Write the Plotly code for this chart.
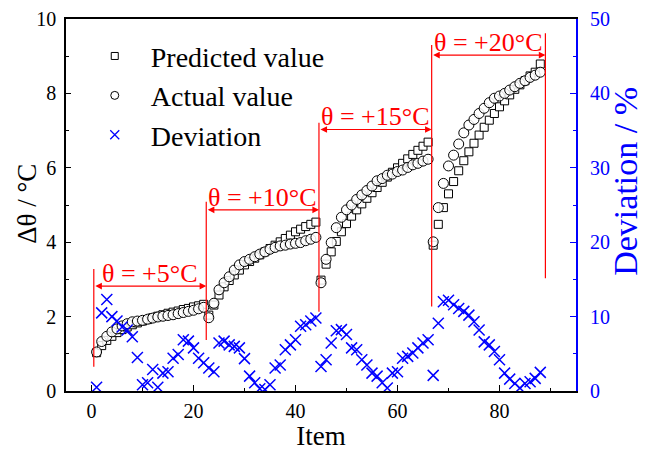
import plotly.graph_objects as go

# ---------------- data ----------------
items = list(range(1, 89))

pred_seg1 = [1.03, 1.22, 1.36, 1.47, 1.57, 1.65, 1.72, 1.78, 1.83, 1.88, 1.92,
             1.97, 2.01, 2.05, 2.09, 2.12, 2.15, 2.19, 2.22, 2.26, 2.29, 2.33]
act_seg1 = [1.05, 1.33, 1.47, 1.59, 1.67, 1.75, 1.81, 1.86, 1.88, 1.90, 1.93,
            1.96, 1.99, 2.01, 2.03, 2.05, 2.08, 2.11, 2.14, 2.17, 2.21, 2.25]
pred_seg2 = [2.04, 2.31, 2.58, 2.80, 2.97, 3.12, 3.25, 3.39, 3.48, 3.57, 3.66,
             3.74, 3.83, 3.92, 4.01, 4.10, 4.19, 4.28, 4.35, 4.42, 4.48, 4.54]
act_seg2 = [1.97, 2.36, 2.72, 2.91, 3.07, 3.25, 3.39, 3.48, 3.54, 3.61, 3.68,
            3.74, 3.81, 3.86, 3.90, 3.92, 3.95, 3.97, 3.99, 4.04, 4.08, 4.13]
pred_seg3 = [2.98, 3.41, 3.74, 4.02, 4.28, 4.50, 4.70, 4.87, 5.03, 5.18, 5.33,
             5.47, 5.61, 5.75, 5.88, 6.00, 6.12, 6.24, 6.36, 6.47, 6.58, 6.69]
act_seg3 = [2.91, 3.54, 3.99, 4.39, 4.67, 4.87, 5.00, 5.15, 5.27, 5.39, 5.51,
            5.65, 5.71, 5.80, 5.83, 5.90, 5.94, 6.01, 6.08, 6.12, 6.18, 6.23]
pred_seg4 = [3.92, 4.48, 4.93, 5.30, 5.63, 5.92, 6.19, 6.43, 6.66, 6.88, 7.09,
             7.28, 7.46, 7.64, 7.80, 7.96, 8.11, 8.23, 8.34, 8.47, 8.57, 8.79]
act_seg4 = [4.01, 4.93, 5.58, 6.05, 6.34, 6.64, 6.94, 7.15, 7.30, 7.46, 7.60,
            7.75, 7.87, 7.93, 8.00, 8.09, 8.18, 8.27, 8.34, 8.43, 8.49, 8.57]

dev_seg1 = [0.5, 10.5, 12.3, 10.0, 9.4, 8.6, 8.2, 7.3, 4.5, 0.85, 1.1,
            2.9, 0.5, 2.4, 2.6, 4.4, 4.9, 6.9, 6.7, 5.8, 4.4, 3.8]
dev_seg2 = [3.1, 2.6, 6.45, 6.7, 6.2, 6.0, 5.8, 4.35, 2.0, 1.1, 0.3,
            0.2, 0.85, 3.1, 3.5, 5.55, 6.2, 6.9, 8.7, 8.9, 9.4, 9.8]
dev_seg3 = [3.3, 4.2, 6.45, 8.1, 8.25, 7.6, 5.8, 5.55, 4.2, 3.5, 2.4,
            2.0, 1.1, 0.4, 2.4, 2.6, 4.4, 4.65, 5.1, 5.8, 6.45, 6.9]
dev_seg4 = [2.1, 9.1, 12.0, 12.2, 11.6, 11.1, 10.7, 10.2, 9.3, 8.2, 6.6,
            6.2, 5.3, 4.2, 2.4, 1.6, 1.0, 0.4, 1.0, 1.25, 1.7, 2.5]

predicted = pred_seg1 + pred_seg2 + pred_seg3 + pred_seg4
actual = act_seg1 + act_seg2 + act_seg3 + act_seg4
deviation = dev_seg1 + dev_seg2 + dev_seg3 + dev_seg4

# segment markers (temperature steps)
seg_labels = ["θ = +5°C", "θ = +10°C", "θ = +15°C", "θ = +20°C"]
seg_edges = [0.45, 22.5, 44.6, 66.7, 89.0]
edge_low = [0.65, 1.37, 2.13, 2.27, 3.03]
edge_high = [3.28, 5.09, 7.21, 9.30, 9.62]
arrow_level = [2.82, 4.87, 7.03, 9.03]

# ---------------- styles ----------------
FONT = "Liberation Serif, Times New Roman, serif"
RED = "#ff0000"
BLUE = "#0000ff"

fig = go.Figure()

fig.add_trace(go.Scatter(
    x=items, y=predicted, mode="markers", showlegend=False,
    marker=dict(symbol="square", size=8, color="white",
                line=dict(color="black", width=1)),
))
fig.add_trace(go.Scatter(
    x=items, y=actual, mode="markers", showlegend=False,
    marker=dict(symbol="circle", size=10, color="rgba(255,255,255,0.85)",
                line=dict(color="black", width=1)),
))
fig.add_trace(go.Scatter(
    x=items, y=deviation, mode="markers", yaxis="y2", showlegend=False,
    marker=dict(symbol="x-thin", size=11, line=dict(color=BLUE, width=1.5)),
))

# legend entries
fig.add_trace(go.Scatter(x=[None], y=[None], mode="markers", name="Predicted value",
                         marker=dict(symbol="square-open", size=7, color="black",
                                     line=dict(width=1))))
fig.add_trace(go.Scatter(x=[None], y=[None], mode="markers", name="Actual value",
                         marker=dict(symbol="circle-open", size=8, color="black",
                                     line=dict(width=1))))
fig.add_trace(go.Scatter(x=[None], y=[None], mode="markers", name="Deviation",
                         marker=dict(symbol="x-thin", size=9,
                                     line=dict(color=BLUE, width=1.3))))

shapes = []
for xe, lo, hi in zip(seg_edges, edge_low, edge_high):
    shapes.append(dict(type="line", xref="x", yref="y", x0=xe, x1=xe, y0=lo, y1=hi,
                       line=dict(color=RED, width=1.2)))

annotations = []
for i, lab in enumerate(seg_labels):
    x0, x1 = seg_edges[i], seg_edges[i + 1]
    yv = arrow_level[i]
    annotations.append(dict(x=x1, y=yv, ax=x0, ay=yv, xref="x", yref="y",
                            axref="x", ayref="y", text="", showarrow=True,
                            arrowhead=2, arrowside="end+start", arrowsize=1.1,
                            arrowwidth=1.2, arrowcolor=RED, standoff=0,
                            startstandoff=0))
    annotations.append(dict(x=(x0 + x1) / 2, y=yv, xref="x", yref="y", text=lab,
                            showarrow=False, yanchor="bottom", yshift=-4,
                            font=dict(family=FONT, size=26, color=RED)))

# axis titles
annotations.append(dict(x=-0.0765, y=0.503, xref="paper", yref="paper",
                        text="Δθ / °C", textangle=-90, showarrow=False,
                        xanchor="center", yanchor="middle",
                        font=dict(family=FONT, size=27, color="black")))
annotations.append(dict(x=1.098, y=0.565, xref="paper", yref="paper",
                        text="Deviation / %", textangle=-90, showarrow=False,
                        xanchor="center", yanchor="middle",
                        font=dict(family=FONT, size=34, color=BLUE)))

fig.update_layout(
    width=650, height=451,
    margin=dict(l=66, r=74, t=19, b=60, autoexpand=False),
    paper_bgcolor="white", plot_bgcolor="white",
    font=dict(family=FONT, size=20, color="black"),
    shapes=shapes, annotations=annotations,
    legend=dict(x=0.025, y=0.967, xanchor="left", yanchor="top",
                bgcolor="rgba(0,0,0,0)", font=dict(family=FONT, size=28),
                itemwidth=62, tracegroupgap=0),
    xaxis=dict(range=[-5, 95], tickmode="array", tickvals=[0, 20, 40, 60, 80],
               ticks="inside", ticklen=6, tickwidth=1.2, tickcolor="black",
               minor=dict(tickmode="array", tickvals=[10, 30, 50, 70, 90],
                          ticks="inside", ticklen=3, tickcolor="black"),
               showline=True, linecolor="black", linewidth=1.5, mirror=True,
               showgrid=False, zeroline=False, ticklabelstandoff=1,
               automargin=False,
               title=dict(text="Item", font=dict(family=FONT, size=27), standoff=4),
               tickfont=dict(family=FONT, size=20)),
    yaxis=dict(range=[0, 10], tickmode="array", tickvals=[0, 2, 4, 6, 8, 10],
               ticks="inside", ticklen=5, tickwidth=1.2, tickcolor="black",
               minor=dict(tickmode="array", tickvals=[1, 3, 5, 7, 9],
                          ticks="inside", ticklen=3, tickcolor="black"),
               showline=True, linecolor="black", linewidth=1.5,
               showgrid=False, zeroline=False, ticklabelstandoff=4,
               automargin=False,
               tickfont=dict(family=FONT, size=20)),
    yaxis2=dict(range=[0, 50], overlaying="y", side="right",
                tickmode="array", tickvals=[0, 10, 20, 30, 40, 50],
                ticks="inside", ticklen=6, tickwidth=1.2, tickcolor=BLUE,
                minor=dict(tickmode="array", tickvals=[5, 15, 25, 35, 45],
                           ticks="inside", ticklen=3, tickcolor=BLUE),
                showline=True, linecolor=BLUE, linewidth=2,
                showgrid=False, zeroline=False, ticklabelstandoff=8,
                automargin=False,
                tickfont=dict(family=FONT, size=20, color=BLUE)),
)

fig.write_html("out.html")
